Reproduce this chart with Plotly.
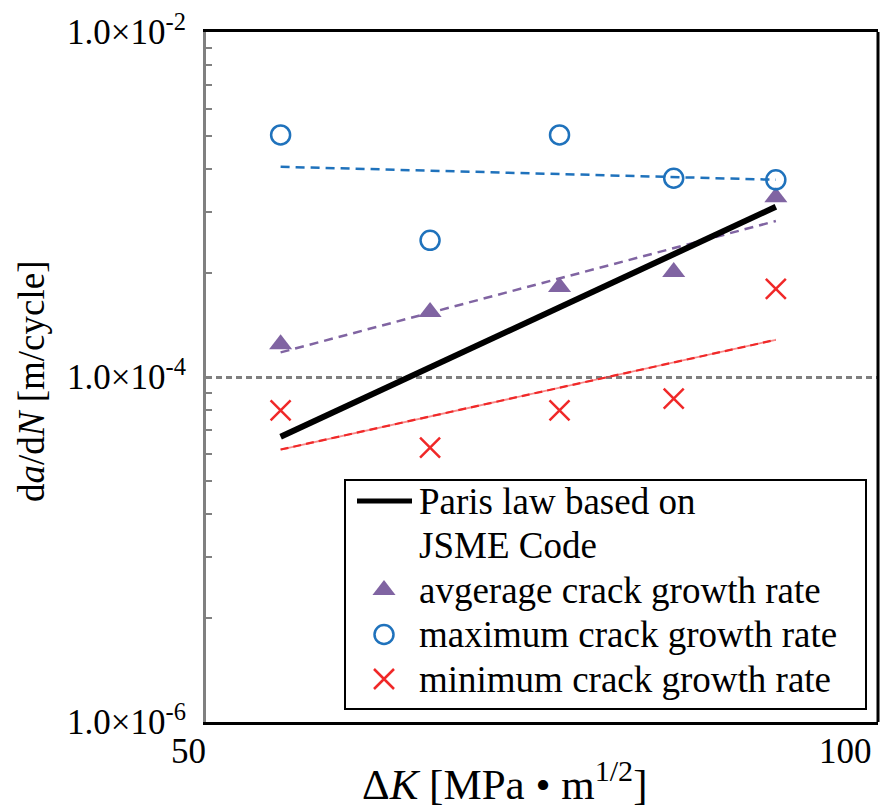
import numpy as np
import plotly.graph_objects as go

# Stress intensity factor range [MPa*m^1/2]
delta_k = [54, 63, 72, 81, 90]

# Crack growth rates [m/cycle]
rate_avg = [1.55e-4, 2.38e-4, 3.32e-4, 4.06e-4, 1.10e-3]
rate_max = [2.53e-3, 6.2e-4, 2.53e-3, 1.42e-3, 1.39e-3]
rate_min = [6.4e-5, 3.9e-5, 6.4e-5, 7.5e-5, 3.24e-4]

# Paris law (JSME code) end points
paris_dk = [54, 90]
paris_rate = [4.5e-5, 9.7e-4]

# Series labels
label_paris = "Paris law based on<br>JSME Code"
label_avg = "avgerage crack growth rate"
label_max = "maximum crack growth rate"
label_min = "minimum crack growth rate"

# Axis ticks
y_major = [1e-6, 1e-4, 1e-2]
y_major_text = ["1.0×10<sup>-6</sup>", "1.0×10<sup>-4</sup>", "1.0×10<sup>-2</sup>"]
x_tick_vals = [50, 100]
x_tick_text = ["50", "100"]

FONT = "Liberation Serif"
BLUE = "#1F72BC"
PURPLE = "#8064A2"
RED = "#F02828"

# Plot area in pixels (figure is 885 x 811)
L, R, T, B = 206, 878, 32, 722


def px_x(p):
    return (p - L) / (R - L)


def px_y(p):
    return (B - p) / (B - T)


def power_fit(x, y):
    """Least-squares power-law trend line (straight line in log-log)."""
    lx, ly = np.log10(x), np.log10(y)
    slope, icpt = np.polyfit(lx, ly, 1)
    xs = np.array([min(x), max(x)], dtype=float)
    return xs, 10 ** (icpt + slope * np.log10(xs))


fig = go.Figure()

# Trend lines
fx, fy = power_fit(delta_k, rate_max)
fig.add_trace(go.Scatter(x=fx, y=fy, mode="lines",
                         line=dict(color=BLUE, width=2.5, dash="9px,6px")))
fx, fy = power_fit(delta_k, rate_avg)
fig.add_trace(go.Scatter(x=fx, y=fy, mode="lines",
                         line=dict(color=PURPLE, width=2.5, dash="9px,6px")))
fx, fy = power_fit(delta_k, rate_min)
fig.add_trace(go.Scatter(x=fx, y=fy, mode="lines",
                         line=dict(color="rgba(240,40,40,0.55)", width=1.8)))
fig.add_trace(go.Scatter(x=fx, y=fy, mode="lines",
                         line=dict(color=RED, width=2.2, dash="8px,5px")))

# Paris law line
line_paris = dict(color="black", width=6)
fig.add_trace(go.Scatter(x=paris_dk, y=paris_rate, mode="lines", line=line_paris))

# Measured crack growth rates
mk_avg = dict(symbol="triangle-up", size=20, color=PURPLE)
mk_max = dict(symbol="circle-open", size=19, color=BLUE, line=dict(width=2.5, color=BLUE))
mk_min = dict(symbol="x-thin-open", size=20, color=RED, line=dict(width=2.5, color=RED))
fig.add_trace(go.Scatter(x=delta_k, y=rate_avg, mode="markers", marker=mk_avg))
fig.add_trace(go.Scatter(x=delta_k, y=rate_max, mode="markers", marker=mk_max))
fig.add_trace(go.Scatter(x=delta_k, y=rate_min, mode="markers", marker=mk_min))

# ---- Legend box (symbols on a hidden 0..1 overlay axis pair) ----
leg_left, leg_right, leg_top, leg_bottom = 345, 866, 480, 709
fig.add_shape(type="rect", xref="paper", yref="paper", layer="below",
              x0=px_x(leg_left), x1=px_x(leg_right),
              y0=px_y(leg_bottom), y1=px_y(leg_top),
              fillcolor="white", line=dict(color="black", width=2))

row_h = 44.5
row0 = 501
sym_x = 384
text_x = 417
rows = [row0 + i * row_h for i in range(5)]

fig.add_trace(go.Scatter(x=[px_x(357), px_x(412)], y=[px_y(rows[0])] * 2,
                         mode="lines", line=dict(color="black", width=5),
                         xaxis="x2", yaxis="y2"))
for r, mk in zip(rows[2:], (mk_avg, mk_max, mk_min)):
    fig.add_trace(go.Scatter(x=[px_x(sym_x)], y=[px_y(r)], mode="markers",
                             marker=mk, xaxis="x2", yaxis="y2"))

legend_lines = label_paris.split("<br>") + [label_avg, label_max, label_min]
for r, txt in zip(rows, legend_lines):
    fig.add_annotation(x=px_x(text_x), y=px_y(r), xref="paper", yref="paper",
                       text=txt, showarrow=False, xanchor="left", yanchor="middle",
                       font=dict(size=37, family=FONT))

# Minor ticks on the y axis
minor_vals = [k * k * 10.0 ** e for e in (-6, -4) for k in range(2, 10)]

fig.update_layout(
    width=885, height=811,
    margin=dict(l=L, r=885 - R, t=T, b=811 - B),
    plot_bgcolor="white", paper_bgcolor="white",
    font=dict(family=FONT, color="black"),
    showlegend=False,
    xaxis=dict(type="log", range=[np.log10(50), 2], showline=True,
               linecolor="black", linewidth=3, mirror=True, ticks="",
               showticklabels=False, showgrid=False, zeroline=False),
    yaxis=dict(type="log", range=[-6, -2], showline=True,
               linecolor="#808080", linewidth=3, tickmode="array",
               tickvals=y_major, ticktext=y_major_text, ticks="inside",
               ticklen=6, tickwidth=2, tickcolor="#808080",
               tickfont=dict(size=35, family=FONT), ticklabelstandoff=10,
               showgrid=True, gridcolor="#7F7F7F", gridwidth=2.5,
               griddash="6px,4px", zeroline=False,
               minor=dict(tickmode="array", tickvals=minor_vals, ticks="inside",
                          ticklen=6, tickwidth=2, tickcolor="#808080",
                          showgrid=False)),
    xaxis2=dict(overlaying="x", range=[0, 1], visible=False, anchor="y2"),
    yaxis2=dict(overlaying="y", range=[0, 1], visible=False, anchor="x2"),
)

# Right frame edge
fig.add_shape(type="line", xref="paper", yref="paper", x0=1, x1=1, y0=0, y1=1,
              line=dict(color="black", width=3))

# X tick labels
for v, t in zip(x_tick_vals, x_tick_text):
    fig.add_annotation(x=np.log10(v), y=0, xref="x", yref="paper", text=t,
                       showarrow=False, xanchor="right", yanchor="top",
                       xshift=2 if v == 50 else -4, yshift=-8,
                       font=dict(size=35, family=FONT))

# Axis titles
fig.add_annotation(x=px_x(504), y=0, xref="paper", yref="paper",
                   text="Δ<i>K</i> [MPa • m<sup>1/2</sup>]", showarrow=False,
                   xanchor="center", yanchor="top", yshift=-30,
                   font=dict(size=43, family=FONT))
fig.add_annotation(x=px_x(31), y=px_y(382), xref="paper", yref="paper",
                   text="d<i>a</i>/d<i>N</i> [m/cycle]", showarrow=False,
                   textangle=-90, xanchor="center", yanchor="middle",
                   font=dict(size=37, family=FONT))

fig.write_html("out.html")
